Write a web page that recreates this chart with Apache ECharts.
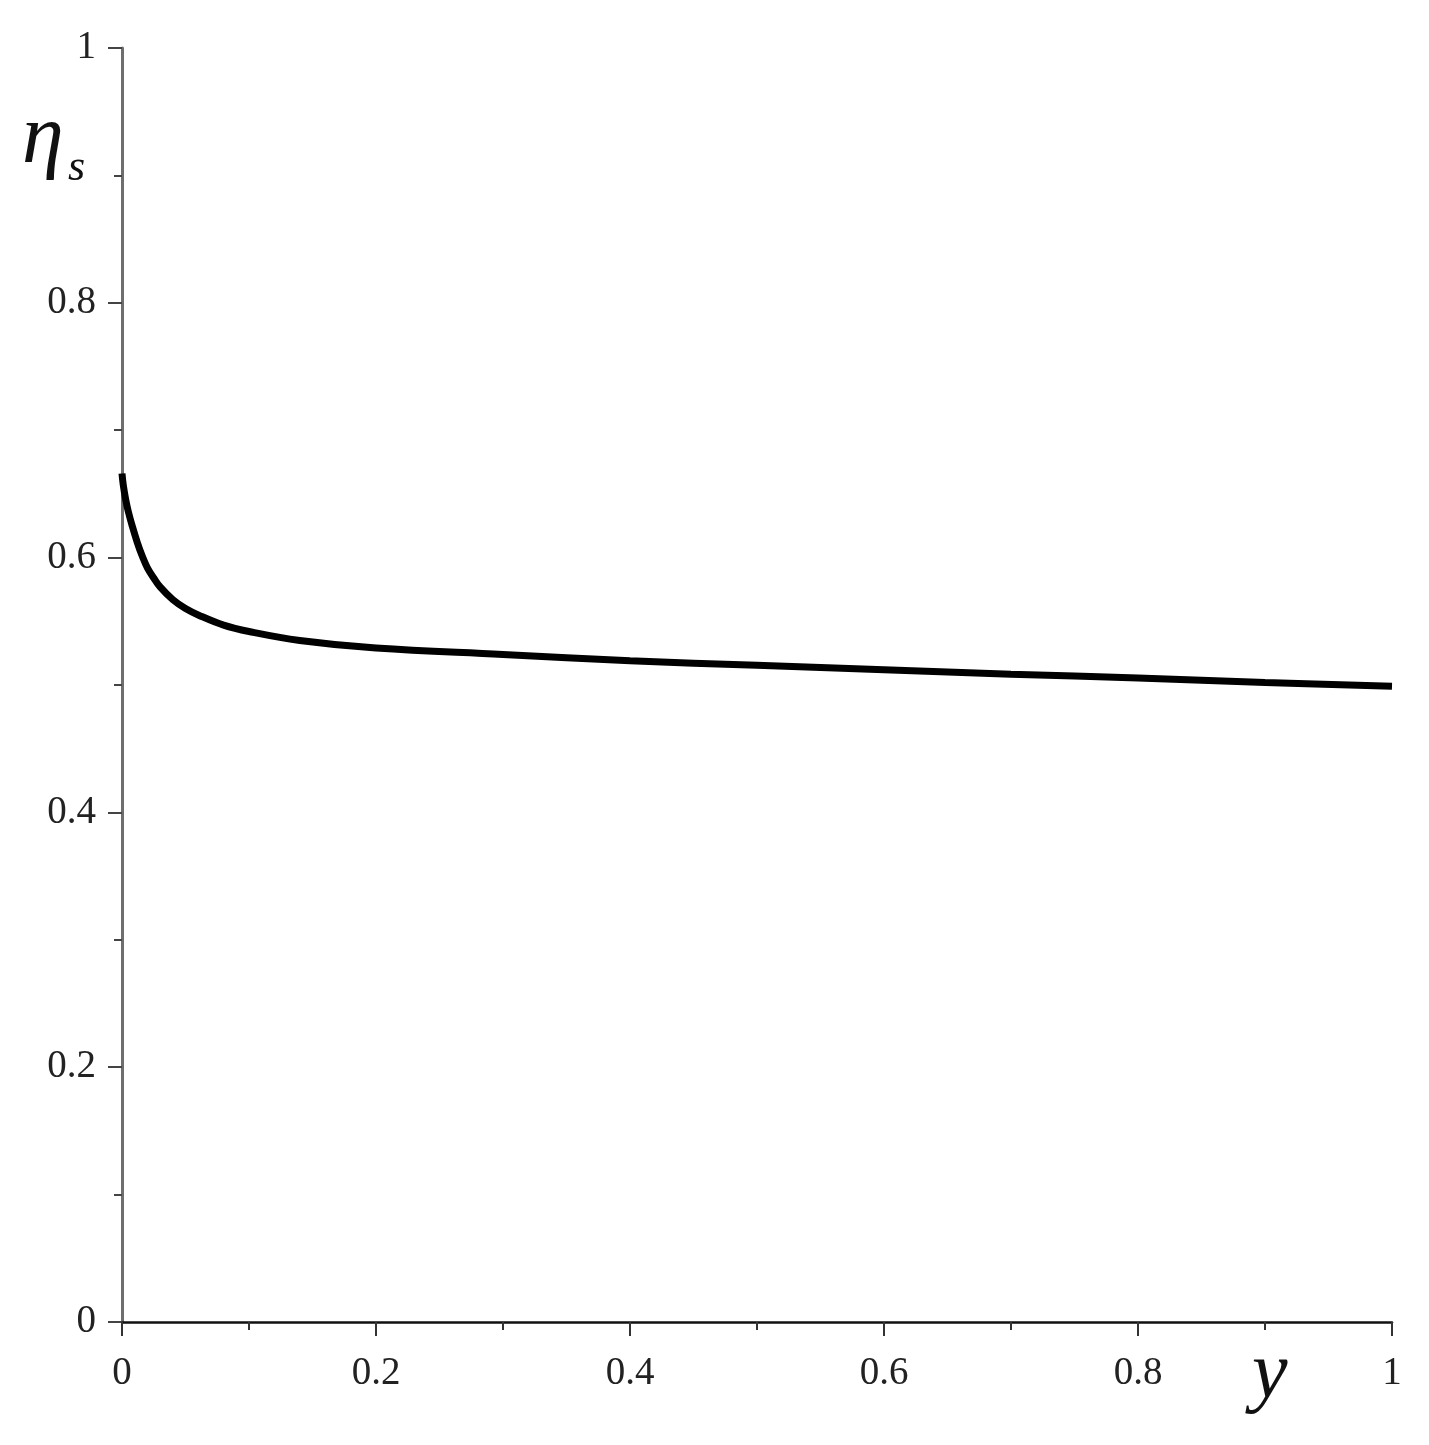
<!DOCTYPE html>
<html>
<head>
<meta charset="utf-8">
<script src="https://cdn.jsdelivr.net/npm/echarts@6/dist/echarts.min.js"></script>
<style>
  html, body { margin: 0; padding: 0; background: #fff; }
  #main { width: 1429px; height: 1445px; }
</style>
</head>
<body>
<div id="main"></div>
<script>
// values
var yValues = [0, 0.001, 0.003, 0.005, 0.008, 0.012, 0.016, 0.02, 0.025, 0.03, 0.04, 0.05, 0.06, 0.08, 0.1, 0.14, 0.2, 0.3, 0.4, 0.5, 0.6, 0.7, 0.8, 0.9, 1.0];
var etaValues = [0.666, 0.657, 0.645, 0.636, 0.625, 0.612, 0.601, 0.592, 0.584, 0.577, 0.567, 0.560, 0.555, 0.547, 0.542, 0.535, 0.529, 0.524, 0.519, 0.5155, 0.512, 0.5085, 0.5055, 0.502, 0.499];
var xTicks = [0, 0.2, 0.4, 0.6, 0.8, 1];
var yTicks = [0, 0.2, 0.4, 0.6, 0.8, 1];

var chart = echarts.init(document.getElementById('main'));

var points = [];
for (var i = 0; i < yValues.length; i++) {
    points.push([yValues[i], etaValues[i]]);
}

// labels like Maple: 0 and 1 without decimals
function fmt(v) {
    var r = Math.round(v * 10) / 10;
    return String(r);
}

var labelStyle = {
    fontFamily: '"Liberation Serif", "DejaVu Serif", serif',
    fontSize: 39,
    color: '#222'
};

var option = {
    backgroundColor: '#fff',
    animation: false,
    grid: {
        left: 122,
        right: 37,
        top: 48,
        bottom: 123
    },
    xAxis: {
        type: 'value',
        min: 0,
        max: 1,
        interval: 0.2,
        axisLine: { lineStyle: { color: '#111', width: 2.5 } },
        axisTick: { length: 14, lineStyle: { color: '#333', width: 2 } },
        minorTick: { show: true, splitNumber: 2, length: 8, lineStyle: { color: '#333', width: 2 } },
        splitLine: { show: false },
        axisLabel: Object.assign({ margin: 32, formatter: fmt }, labelStyle)
    },
    yAxis: {
        type: 'value',
        min: 0,
        max: 1,
        interval: 0.2,
        axisLine: { show: true, lineStyle: { color: '#6e6e6e', width: 3 } },
        axisTick: { show: true, length: 14, lineStyle: { color: '#444', width: 2 } },
        minorTick: { show: true, splitNumber: 2, length: 8, lineStyle: { color: '#444', width: 2 } },
        splitLine: { show: false },
        axisLabel: Object.assign({ margin: 26, formatter: fmt }, labelStyle)
    },
    graphic: [
        {
            type: 'text',
            left: 22,
            top: 98,
            style: {
                text: 'η',
                font: 'italic 84px "Liberation Serif", serif',
                fill: '#111'
            }
        },
        {
            type: 'text',
            left: 68,
            top: 146,
            style: {
                text: 's',
                font: 'italic 44px "Liberation Serif", serif',
                fill: '#111'
            }
        },
        {
            type: 'text',
            left: 1252,
            top: 1336,
            style: {
                text: 'y',
                font: 'italic 80px "Liberation Serif", serif',
                fill: '#111'
            }
        }
    ],
    series: [{
        type: 'line',
        data: points,
        smooth: 0.4,
        showSymbol: false,
        lineStyle: { color: '#000', width: 7 }
    }]
};

chart.setOption(option);
</script>
</body>
</html>
